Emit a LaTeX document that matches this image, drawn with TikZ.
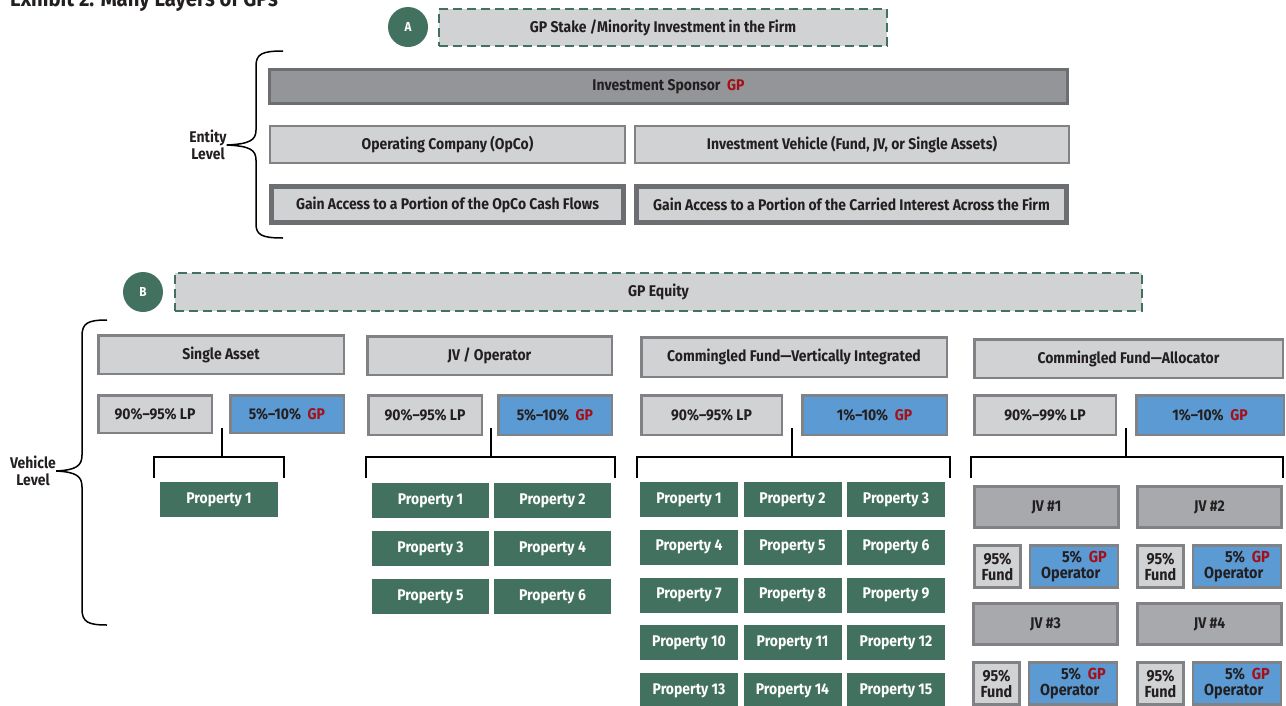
\documentclass[tikz,border=0pt]{standalone}
\usepackage{fontspec}
\setmainfont{Fira Sans}[FakeStretch=0.9]
\usepackage{xcolor}

\definecolor{ink}{HTML}{231F20}
\definecolor{lgray}{HTML}{D1D2D4}
\definecolor{dgray}{HTML}{939598}
\definecolor{mgray}{HTML}{A7A9AC}
\definecolor{edge}{HTML}{808285}
\definecolor{dedge}{HTML}{6D6E71}
\definecolor{gpblue}{HTML}{5B9AD3}
\definecolor{teal}{HTML}{43715F}
\definecolor{gpred}{HTML}{A50F15}
\newcommand{\gp}{\textcolor{gpred}{GP}}

\begin{document}
\begin{tikzpicture}[x=1pt,y=-1pt,
  every node/.style={font=\bfseries\fontsize{15.5}{17}\selectfont, text=ink, inner sep=0pt},
  lightbox/.style={draw=edge, fill=lgray, line width=2.5pt},
  accessbox/.style={draw=dedge, fill=lgray, line width=5pt},
  sponsorbox/.style={draw=dedge, fill=dgray, line width=3pt},
  gpbox/.style={draw=edge, fill=gpblue, line width=2.5pt},
  jvbox/.style={draw=edge, fill=mgray, line width=3pt, minimum width=144, minimum height=41},
  propbox/.style={fill=teal, text=white, minimum height=35},
  dashbox/.style={draw=teal, fill=lgray, line width=2pt, dash pattern=on 9pt off 5pt},
  badge/.style={circle, fill=teal, text=white, minimum size=40, font=\bfseries\fontsize{13}{15}\selectfont},
  brace/.style={line width=1.5pt},
  bracket/.style={line width=1.5pt}]
\useasboundingbox (0,0) rectangle (1286,705);

\node[anchor=base west, font=\bfseries\fontsize{22.5}{24}\selectfont] (title) at (10,6) {Exhibit 2: Many Layers of GPs};

\node[badge] (badgeA) at (408,27) {A};
\node[dashbox, minimum width=448, minimum height=37] (stake) at (663,27.5) {GP Stake /Minority Investment in the Firm};

\node[align=center] (entity) at (208,145) {Entity\\Level};
\draw[brace] (283,51) .. controls (262,51) and (256,54) .. (256,66) -- (256,130)
  .. controls (256,140) and (250,144) .. (entity.east) .. controls (250,146) and (256,150) .. (256,160)
  -- (256,224) .. controls (256,235) and (262,238) .. (283,238);

\node[sponsorbox, minimum width=798, minimum height=34] (sponsor) at (668.5,86.5) {Investment Sponsor~~\gp};
\node[lightbox, minimum width=355, minimum height=37] (opco) at (447.5,144.5) {Operating Company (OpCo)};
\node[lightbox, minimum width=434, minimum height=37] (vehicle) at (852,144.5) {Investment Vehicle (Fund, JV, or Single Assets)};
\node[accessbox, minimum width=352, minimum height=36] (cashflow) at (447.5,204.5) {Gain Access to a Portion of the OpCo Cash Flows};
\node[accessbox, minimum width=430, minimum height=36] (carry) at (851.5,204.5) {Gain Access to a Portion of the Carried Interest Across the Firm};

\node[badge] (badgeB) at (143,292) {B};
\node[dashbox, minimum width=967, minimum height=38] (equity) at (658.5,292) {GP Equity};

\node[align=center] (vehlevel) at (33,471) {Vehicle\\Level};
\draw[brace] (107,320) .. controls (88,320) and (82,323) .. (82,336) -- (82,455)
  .. controls (82,466) and (76,470) .. (vehlevel.east) .. controls (76,472) and (82,476) .. (82,487)
  -- (82,609) .. controls (82,622) and (88,625) .. (107,625);

\node[lightbox, minimum width=245.5, minimum height=38.5] (single) at (221,354.5) {Single Asset};
\node[lightbox, minimum width=244.5, minimum height=38.5] (jvop) at (489.5,355.5) {JV / Operator};
\node[lightbox, minimum width=305.5, minimum height=39.5] (cfvi) at (794,357) {Commingled Fund---Vertically Integrated};
\node[lightbox, minimum width=308.5, minimum height=38.5] (cfal) at (1128.5,358.5) {Commingled Fund---Allocator};

\node[lightbox, minimum width=113.5, minimum height=37.5] (lp1) at (155,414) {90\%--95\% LP};
\node[gpbox, minimum width=113.5, minimum height=37.5] (gp1) at (287,414) {5\%--10\%~~\gp};
\node[lightbox, minimum width=113.5, minimum height=39.5] (lp2) at (425,415) {90\%--95\% LP};
\node[gpbox, minimum width=113.5, minimum height=39.5] (gp2) at (555,415) {5\%--10\%~~\gp};
\node[lightbox, minimum width=140.5, minimum height=39.5] (lp3) at (711.5,415) {90\%--95\% LP};
\node[gpbox, minimum width=144.5, minimum height=39.5] (gp3) at (874.5,415) {1\%--10\%~~\gp};
\node[lightbox, minimum width=141.5, minimum height=39.5] (lp4) at (1045,415) {90\%--99\% LP};
\node[gpbox, minimum width=147.5, minimum height=39.5] (gp4) at (1210,415) {1\%--10\%~~\gp};

\foreach \n/\s/\l/\r in {1/222/154/284, 2/491/366/615, 3/792/637/950, 4/1126/971/1283}{
  \coordinate (stem\n) at (\s,428);
  \coordinate (fork\n) at (\s,457);
  \draw[bracket] (stem\n) -- (fork\n);
  \draw[bracket] (\l,478) |- (fork\n) -| (\r,478);
}

\node[propbox, minimum width=118] (sa1) at (219,499.5) {Property 1};

\foreach \r in {0,1,2}
  \foreach \c in {0,1}{
    \pgfmathtruncatemacro{\k}{2*\r+\c+1}
    \node[propbox, minimum width=117] (jv\k) at (430.5+122*\c,500.5+48*\r) {Property \k};
  }

\foreach \r in {0,...,4}
  \foreach \c in {0,1,2}{
    \pgfmathtruncatemacro{\k}{3*\r+\c+1}
    \node[propbox, minimum width=98] (cf\k) at (689+103.5*\c,499.5+47.75*\r) {Property \k};
  }

\foreach \n/\x/\y in {1/973/485, 2/1136/485, 3/972/602, 4/1136/602}{
  \node[jvbox] (jvbox\n) at (\x+73.5,\y+22) {JV \#\n};
  \node[lightbox, minimum width=46, minimum height=42, align=center, font=\bfseries\fontsize{16}{16}\selectfont] (fund\n) at (\x+24.5,\y+81.5) {95\%\\Fund};
  \node[gpbox, minimum width=88, minimum height=42, align=left, font=\bfseries\fontsize{16}{16}\selectfont] (oper\n) at (\x+101,\y+81.5) {\hspace*{21pt}5\%~~\gp\\Operator};
}
\end{tikzpicture}
\end{document}
